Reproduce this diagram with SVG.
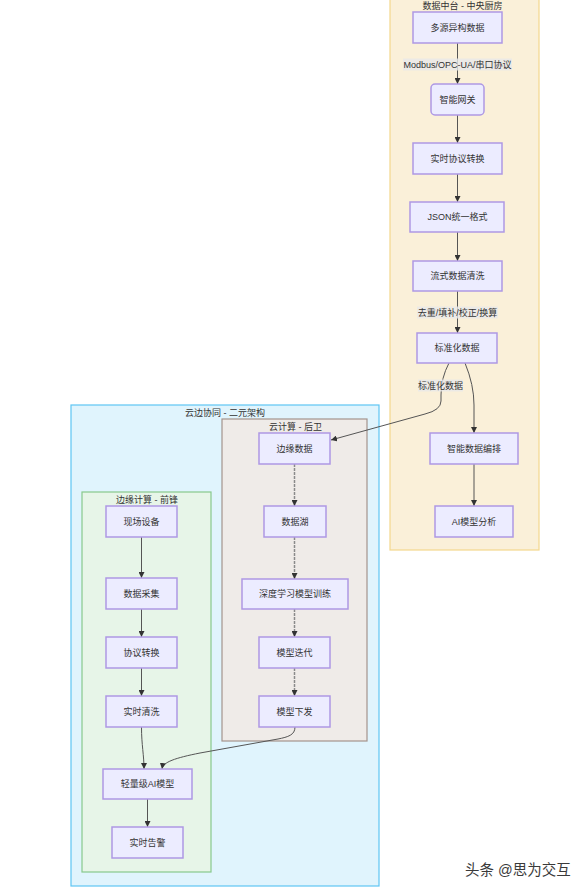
<svg xmlns="http://www.w3.org/2000/svg" width="587" height="890" viewBox="0 0 587 890">
<style>
text{font-family:"Liberation Sans","Noto Sans CJK SC",sans-serif;font-size:9px;fill:#333;text-anchor:middle;dominant-baseline:central}
.n{fill:#ececff;stroke:#ae98e4;stroke-width:1.5}
.e{fill:none;stroke:#555;stroke-width:1}
.ec{fill:none;stroke:#8a8a8a;stroke-width:1.5;stroke-dasharray:3,1}
.lb{fill:#e8e8e8;opacity:0.8}
</style>
<defs>
<marker id="ah" viewBox="0 0 10 10" refX="10" refY="5" markerWidth="6" markerHeight="6" markerUnits="userSpaceOnUse" orient="auto">
<path d="M0,0 L10,5 L0,10 z" fill="#333"/>
</marker>
</defs>
<rect width="587" height="890" fill="#fff"/>
<g id="grp-data">
<rect x="390" y="-10" width="149" height="560" fill="#faf0d9" stroke="#f3d88c" stroke-width="1.2"/>
<text x="462.5" y="6">数据中台 - 中央厨房</text>
</g>
<g id="grp-cloudedge">
<rect x="71" y="405" width="308" height="481" fill="#e0f4fd" stroke="#5ec5f4" stroke-width="1.2"/>
<text x="225" y="413">云边协同 - 二元架构</text>
</g>
<g id="grp-cloud">
<rect x="222" y="419" width="145" height="322" fill="#efebe8" stroke="#a3938d" stroke-width="1.2"/>
<text x="295.5" y="427">云计算 - 后卫</text>
</g>
<g id="grp-edge">
<rect x="82" y="492" width="129" height="380" fill="#e7f5e8" stroke="#88c98c" stroke-width="1.2"/>
<text x="147" y="500">边缘计算 - 前锋</text>
</g>
<g id="connectors">
<path class="e" d="M457.5,43 L457.5,84" marker-end="url(#ah)"/>
<path class="e" d="M457.5,115 L457.5,143" marker-end="url(#ah)"/>
<path class="e" d="M457.5,174 L457.5,202" marker-end="url(#ah)"/>
<path class="e" d="M457.5,232 L457.5,261" marker-end="url(#ah)"/>
<path class="e" d="M457.5,291 L457.5,333" marker-end="url(#ah)"/>
<path class="e" d="M449,363 Q441,378 441,395 L441,401 Q441,410 425,414 L331,440" marker-end="url(#ah)"/>
<path class="e" d="M465,363 Q474,385 474,405 L474,433" marker-end="url(#ah)"/>
<path class="e" d="M474,464 L474,506" marker-end="url(#ah)"/>
<path class="ec" d="M294.5,464 L294.5,506" marker-end="url(#ah)"/>
<path class="ec" d="M294.5,537 L294.5,579" marker-end="url(#ah)"/>
<path class="ec" d="M294.5,609 L294.5,637" marker-end="url(#ah)"/>
<path class="ec" d="M294.5,668 L294.5,696" marker-end="url(#ah)"/>
<path class="e" d="M295,727 C295,735 288,737 278,739 L200,753 C175,758 163,762 162,769" marker-end="url(#ah)"/>
<path class="e" d="M141.5,537 L141.5,578" marker-end="url(#ah)"/>
<path class="e" d="M141.5,609 L141.5,637" marker-end="url(#ah)"/>
<path class="e" d="M141.5,668 L141.5,696" marker-end="url(#ah)"/>
<path class="e" d="M141.5,727 C141.5,745 144,755 144,769" marker-end="url(#ah)"/>
<path class="e" d="M147.5,799 L147.5,827" marker-end="url(#ah)"/>
<rect class="lb" x="403" y="58.5" width="109" height="12"/>
<text x="457.5" y="64.5">Modbus/OPC-UA/串口协议</text>
<rect class="lb" x="417" y="306.5" width="81" height="12"/>
<text x="457.5" y="312.5">去重/填补/校正/换算</text>
<rect class="lb" x="418" y="379.5" width="45" height="12"/>
<text x="440.5" y="385.5">标准化数据</text>
</g>
<g id="n-multi"><rect class="n" x="413" y="12" width="89" height="31"/><text x="457.5" y="27.5">多源异构数据</text></g>
<g id="n-gateway"><rect class="n" x="431" y="84" width="53" height="31" rx="4"/><text x="457.5" y="99.5">智能网关</text></g>
<g id="n-proto"><rect class="n" x="413" y="143" width="89" height="31"/><text x="457.5" y="158.5">实时协议转换</text></g>
<g id="n-json"><rect class="n" x="410" y="202" width="94" height="30"/><text x="457.5" y="217">JSON统一格式</text></g>
<g id="n-stream"><rect class="n" x="413" y="261" width="89" height="30"/><text x="457.5" y="276">流式数据清洗</text></g>
<g id="n-std"><rect class="n" x="417" y="333" width="80" height="30"/><text x="457" y="348">标准化数据</text></g>
<g id="n-orch"><rect class="n" x="430" y="433" width="88" height="31"/><text x="474" y="448.5">智能数据编排</text></g>
<g id="n-ai"><rect class="n" x="435" y="506" width="78" height="31"/><text x="474" y="521.5">AI模型分析</text></g>
<g id="n-edgedata"><rect class="n" x="259" y="433" width="71" height="31"/><text x="294.5" y="448.5">边缘数据</text></g>
<g id="n-lake"><rect class="n" x="264" y="506" width="62" height="31"/><text x="295" y="521.5">数据湖</text></g>
<g id="n-train"><rect class="n" x="242" y="579" width="106" height="30"/><text x="295" y="594">深度学习模型训练</text></g>
<g id="n-iter"><rect class="n" x="259" y="637" width="71" height="31"/><text x="294.5" y="652.5">模型迭代</text></g>
<g id="n-deploy"><rect class="n" x="259" y="696" width="71" height="31"/><text x="294.5" y="711.5">模型下发</text></g>
<g id="n-device"><rect class="n" x="106" y="506" width="71" height="31"/><text x="141.5" y="521.5">现场设备</text></g>
<g id="n-collect"><rect class="n" x="106" y="578" width="71" height="31"/><text x="141.5" y="593.5">数据采集</text></g>
<g id="n-conv"><rect class="n" x="106" y="637" width="71" height="31"/><text x="141.5" y="652.5">协议转换</text></g>
<g id="n-clean"><rect class="n" x="106" y="696" width="71" height="31"/><text x="141.5" y="711.5">实时清洗</text></g>
<g id="n-light"><rect class="n" x="103" y="769" width="89" height="30"/><text x="147.5" y="784">轻量级AI模型</text></g>
<g id="n-alarm"><rect class="n" x="112" y="827" width="71" height="31"/><text x="147.5" y="842.5">实时告警</text></g>
<text x="465" y="870" style="text-anchor:start;font-size:14.5px;fill:#3a3a3a">头条 @思为交互</text>
</svg>
